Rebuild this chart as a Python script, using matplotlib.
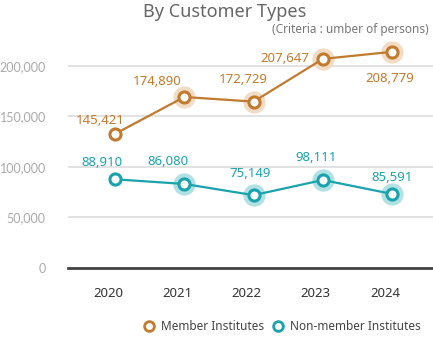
import matplotlib as mpl
import matplotlib.pyplot as plt
import matplotlib.transforms as mtransforms
from matplotlib.lines import Line2D

mpl.rcParams.update({
    "font.family": ["Noto Sans", "DejaVu Sans"],
    "axes.spines.top": False,
    "axes.spines.right": False,
    "axes.spines.left": False,
})

years = ["2020", "2021", "2022", "2023", "2024"]
# plotted positions
member = [132800, 169300, 164700, 207000, 214000]
non_member = [87800, 83200, 72100, 87100, 73300]
# printed data labels
member_labels = ["145,421", "174,890", "172,729", "207,647", "208,779"]
non_member_labels = ["88,910", "86,080", "75,149", "98,111", "85,591"]
yticks = [0, 50000, 100000, 150000, 200000]

C_MEM = "#c27a2e"
C_MEM_HALO = "#f1dcc6"
C_NON = "#1aa3ac"
C_NON_HALO = "#b2e1e4"

# label offsets in pixels (dx, dy) relative to each point
mem_off = [(-15, 13), (-27, 15), (-10, 22), (-38, 0), (-2, -27)]
non_off = [(-13, 17), (-16, 22), (-4, 22), (-7, 23), (0, 16)]

fig = plt.figure(figsize=(4.33, 3.4), dpi=100)
ax = fig.add_axes([68 / 433, 72 / 340, 365 / 433, 228 / 340])

x = list(range(len(years)))

for xs, ys, col, halo in [(x, member, C_MEM, C_MEM_HALO), (x, non_member, C_NON, C_NON_HALO)]:
    ax.plot(xs[1:], ys[1:], "o", ms=16, color=halo, mec="none", zorder=2)
    ax.plot(xs, ys, "-", color=col, lw=1.6, zorder=3)
    ax.plot(xs, ys, "o", ms=8, mfc="white", mec=col, mew=2.2, zorder=4)

for xi, yi, lab, off in zip(x, member, member_labels, mem_off):
    ax.annotate(lab, (xi, yi), xytext=off, textcoords="offset pixels",
                ha="center", va="center", color=C_MEM, fontsize=9.5)
for xi, yi, lab, off in zip(x, non_member, non_member_labels, non_off):
    ax.annotate(lab, (xi, yi), xytext=off, textcoords="offset pixels",
                ha="center", va="center", color=C_NON, fontsize=9.5)

ax.set_xlim(-0.68, 4.59)
ax.set_ylim(0, 225700)
ax.set_xticks(x, years)
ax.set_yticks(yticks, [f"{v:,}" for v in yticks])
ax.grid(axis="y", color="#dddddd", lw=1.2)
ax.set_axisbelow(True)
ax.spines["bottom"].set_color("#444444")
ax.spines["bottom"].set_linewidth(2)
ax.tick_params(axis="both", length=0)
ax.tick_params(axis="y", pad=16, labelcolor="#aaaaaa", labelsize=9)
ax.tick_params(axis="x", pad=14, labelcolor="#333333", labelsize=9.5)
for t in ax.get_yticklabels():
    t.set_fontfamily(["Lato", "DejaVu Sans"])
shift = mtransforms.ScaledTranslation(-7 / 100, 0, fig.dpi_scale_trans)
for t in ax.get_xticklabels():
    t.set_transform(t.get_transform() + shift)

fig.text(225 / 433, 1 - 12 / 340, "By Customer Types", ha="center", va="center",
         fontsize=13, color="#666666")
fig.text(429 / 433, 1 - 29 / 340, "(Criteria : umber of persons)", ha="right",
         va="center", fontsize=8.5, color="#777777")

handles = [
    Line2D([], [], ls="none", marker="o", ms=7, mfc="white", mec=C_MEM, mew=2),
    Line2D([], [], ls="none", marker="o", ms=7, mfc="white", mec=C_NON, mew=2),
]
fig.legend(handles, ["Member Institutes", "Non-member Institutes"], loc="center right",
           bbox_to_anchor=(431 / 433, 1 - 327 / 340), ncol=2, frameon=False,
           fontsize=8.5, handletextpad=0.5, columnspacing=0.7, handlelength=1.0,
           labelcolor="#444444")

fig.savefig("out.png", dpi=100)
